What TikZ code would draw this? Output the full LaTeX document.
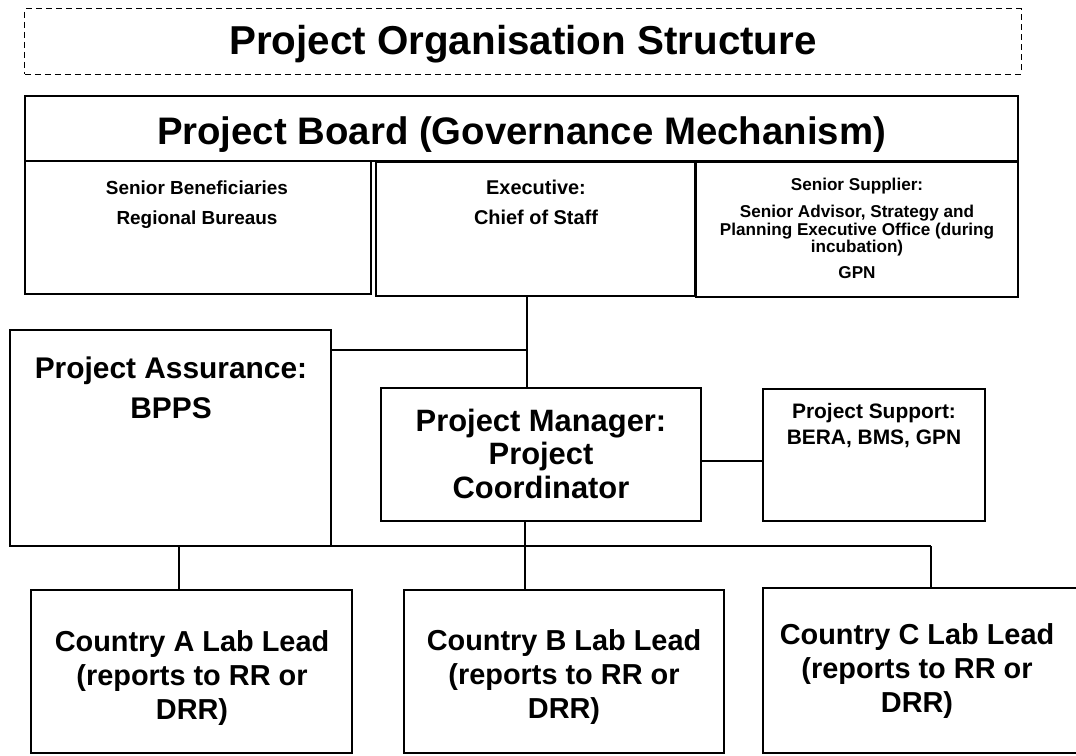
\documentclass[tikz,border=0pt]{standalone}
\usepackage{fontspec}
\setmainfont{Liberation Sans}
\newcommand{\fs}[1]{\fontsize{#1}{#1}\selectfont\bfseries}
\begin{document}
\begin{tikzpicture}[x=1bp,y=-1bp,
  box/.style={draw, line width=1.3bp, inner sep=0pt},
  titlebox/.style={draw, line width=1bp, dash pattern=on 6bp off 4bp, inner sep=0pt},
  conn/.style={line width=1.2bp},
  ln/.style={anchor=base, inner sep=0pt}]
\useasboundingbox (0,0) rectangle (1076,756);
\fill[white] (0,0) rectangle (1076,756);

% boxes
\node[titlebox, minimum width=996bp, minimum height=65bp] (title) at (523,41.5) {};
\node[box, minimum width=993bp, minimum height=65bp] (board) at (521.5,128.5) {};
\node[box, minimum width=346bp, minimum height=133bp] (sb) at (198,227.5) {};
\node[box, minimum width=319bp, minimum height=134bp] (exec) at (535.5,229) {};
\node[box, minimum width=322bp, minimum height=135bp] (supp) at (857,229.5) {};
\node[box, minimum width=321bp, minimum height=216bp] (pa) at (170.5,438) {};
\node[box, minimum width=320bp, minimum height=133bp] (pm) at (541,454.5) {};
\node[box, minimum width=222bp, minimum height=132bp] (ps) at (874,455) {};
\node[box, minimum width=321bp, minimum height=163bp] (ca) at (191.5,671.5) {};
\node[box, minimum width=320bp, minimum height=163bp] (cb) at (564,671.5) {};
\node[box, minimum width=329bp, minimum height=165bp] (cc) at (927.5,670.5) {};

% connectors
\coordinate (j1) at (527,350);
\coordinate (j2) at (732,461);
\coordinate (bus) at (525,546);
\coordinate (busA) at (179,546);
\coordinate (busC) at (931,546);
\draw[conn] (exec.south -| j1) -- (pm.north -| j1);
\draw[conn] (pa.east |- j1) -- (j1);
\draw[conn] (pm.east |- j2) -- (ps.west |- j2);
\draw[conn] (pm.south -| bus) -- (bus);
\draw[conn] (busA) -- (busC);
\draw[conn] (busA) -- (ca.north -| busA);
\draw[conn] (bus) -- (cb.north -| bus);
\draw[conn] (busC) -- (cc.north -| busC);

% texts
\node[ln, font=\fs{40.5}] (t1) at (523,55) {Project Organisation Structure};
\node[ln, font=\fs{38.5}] (t2) at (521.5,144) {Project Board (Governance Mechanism)};

\node[ln, font=\fs{19}] (sb1) at (197,194) {Senior Beneficiaries};
\node[ln, font=\fs{19}] (sb2) at (197,224) {Regional Bureaus};

\node[ln, font=\fs{20}] (ex1) at (536,194) {Executive:};
\node[ln, font=\fs{20}] (ex2) at (536,224) {Chief of Staff};

\node[ln, font=\fs{17.2}] (su1) at (857,190) {Senior Supplier:};
\node[ln, font=\fs{17.2}] (su2) at (857,217) {Senior Advisor, Strategy and};
\node[ln, font=\fs{17.2}] (su3) at (857,235) {Planning Executive Office (during};
\node[ln, font=\fs{17.2}] (su4) at (857,252.5) {incubation)};
\node[ln, font=\fs{17.2}] (su5) at (857,278) {GPN};

\node[ln, font=\fs{30}] (pa1) at (171,378) {Project Assurance:};
\node[ln, font=\fs{30}] (pa2) at (171,418) {BPPS};

\node[ln, font=\fs{31}] (pm1) at (541,431) {Project Manager:};
\node[ln, font=\fs{31}] (pm2) at (541,464.5) {Project};
\node[ln, font=\fs{31}] (pm3) at (541,498) {Coordinator};

\node[ln, font=\fs{21}] (ps1) at (874,418) {Project Support:};
\node[ln, font=\fs{21}] (ps2) at (874,444) {BERA, BMS, GPN};

\node[ln, font=\fs{29}] (ca1) at (192,651) {Country A Lab Lead};
\node[ln, font=\fs{29}] (ca2) at (192,685) {(reports to RR or};
\node[ln, font=\fs{29}] (ca3) at (192,719) {DRR)};

\node[ln, font=\fs{29}] (cb1) at (564,650) {Country B Lab Lead};
\node[ln, font=\fs{29}] (cb2) at (564,684) {(reports to RR or};
\node[ln, font=\fs{29}] (cb3) at (564,718) {DRR)};

\node[ln, font=\fs{29}] (cc1) at (917,644) {Country C Lab Lead};
\node[ln, font=\fs{29}] (cc2) at (917,678) {(reports to RR or};
\node[ln, font=\fs{29}] (cc3) at (917,712) {DRR)};
\end{tikzpicture}
\end{document}
